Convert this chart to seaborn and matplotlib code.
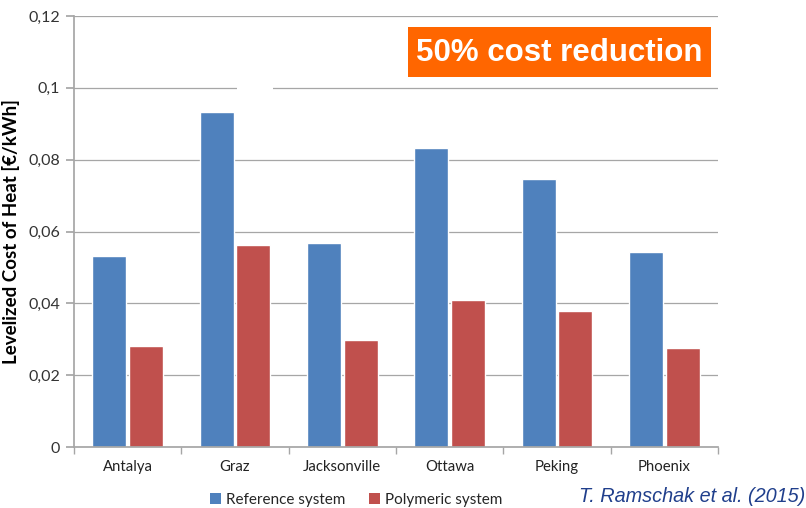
import pandas as pd
import matplotlib.pyplot as plt
import seaborn as sns
from matplotlib.ticker import FuncFormatter
from matplotlib.patches import Patch, Rectangle

cities = ['Antalya', 'Graz', 'Jacksonville', 'Ottawa', 'Peking', 'Phoenix']
reference = [0.0532, 0.0933, 0.0568, 0.0833, 0.0747, 0.0543]
polymeric = [0.0281, 0.0563, 0.0298, 0.0410, 0.0379, 0.0276]
series = ['Reference system', 'Polymeric system']
colors = ['#4F81BD', '#C0504D']

df = pd.DataFrame({
    'city': cities * 2,
    'system': [series[0]] * len(cities) + [series[1]] * len(cities),
    'lcoh': reference + polymeric,
})

sns.set_theme(style="white")
plt.rcParams['font.family'] = ['Lato', 'DejaVu Sans']

fig = plt.figure(figsize=(8.06, 5.08), dpi=100)
ax = fig.add_axes([0.0918, 0.120, 0.799, 0.8485])

sns.barplot(data=df, x='city', y='lcoh', hue='system', palette=colors,
            width=0.68, gap=0.07, ax=ax, legend=False, saturation=1)

ax.set_ylim(0, 0.12)
ax.set_xlim(-0.5, 5.5)
ax.set_yticks([0, 0.02, 0.04, 0.06, 0.08, 0.1, 0.12])
ax.yaxis.set_major_formatter(FuncFormatter(
    lambda v, p: '0' if v == 0 else f"{v:.2f}".rstrip('0').replace('.', ',')))
ax.grid(axis='y', color='#A6A6A6', linewidth=0.9)
ax.set_axisbelow(True)
for s in ['top', 'right']:
    ax.spines[s].set_visible(False)
ax.spines['left'].set_color('#A6A6A6')
ax.spines['bottom'].set_color('#A6A6A6')

ax.set_xticks([i - 0.5 for i in range(7)], minor=True)
ax.tick_params(axis='x', which='major', length=0, labelsize=10.7, pad=9, colors='#222222')
ax.tick_params(axis='x', which='minor', length=5, color='#A6A6A6', direction='out', bottom=True)
ax.tick_params(axis='y', length=6, color='#A6A6A6', direction='out', left=True,
               labelsize=11.5, pad=4, colors='#333333')
ax.set_xlabel('')
ax.set_ylabel('Levelized Cost of Heat [€/kWh]', fontsize=13.5, fontweight='bold',
              color='black', labelpad=6)

# small white patch over the 0,1 gridline above Graz (as in the slide)
fig.patches.append(Rectangle((237 / 806, 1 - 92 / 508), 36 / 806, 8 / 508,
                             transform=fig.transFigure, facecolor='white',
                             edgecolor='none', zorder=3))

# orange callout box
fig.patches.append(Rectangle((408 / 806, 1 - 77 / 508), 303 / 806, 50 / 508,
                             transform=fig.transFigure, facecolor='#FF6600',
                             edgecolor='none', zorder=3))
fig.text(559.5 / 806, 1 - 53 / 508, '50% cost reduction', ha='center', va='center',
         fontsize=22.5, fontweight='bold', color='white', zorder=4,
         family=['Liberation Sans', 'DejaVu Sans'])

handles = [Patch(facecolor=c, edgecolor='none') for c in colors]
fig.legend(handles, series, loc='center', bbox_to_anchor=(0.442, 0.016),
           ncol=2, frameon=False, fontsize=11, handlelength=0.7, handleheight=0.7,
           handletextpad=0.3, columnspacing=1.6)

fig.text(0.999, 0.022, 'T. Ramschak et al. (2015)', ha='right', va='center',
         fontsize=14.3, style='italic', color='#203F8C',
         family=['Liberation Sans', 'DejaVu Sans'])

fig.savefig('out.png', dpi=100)
